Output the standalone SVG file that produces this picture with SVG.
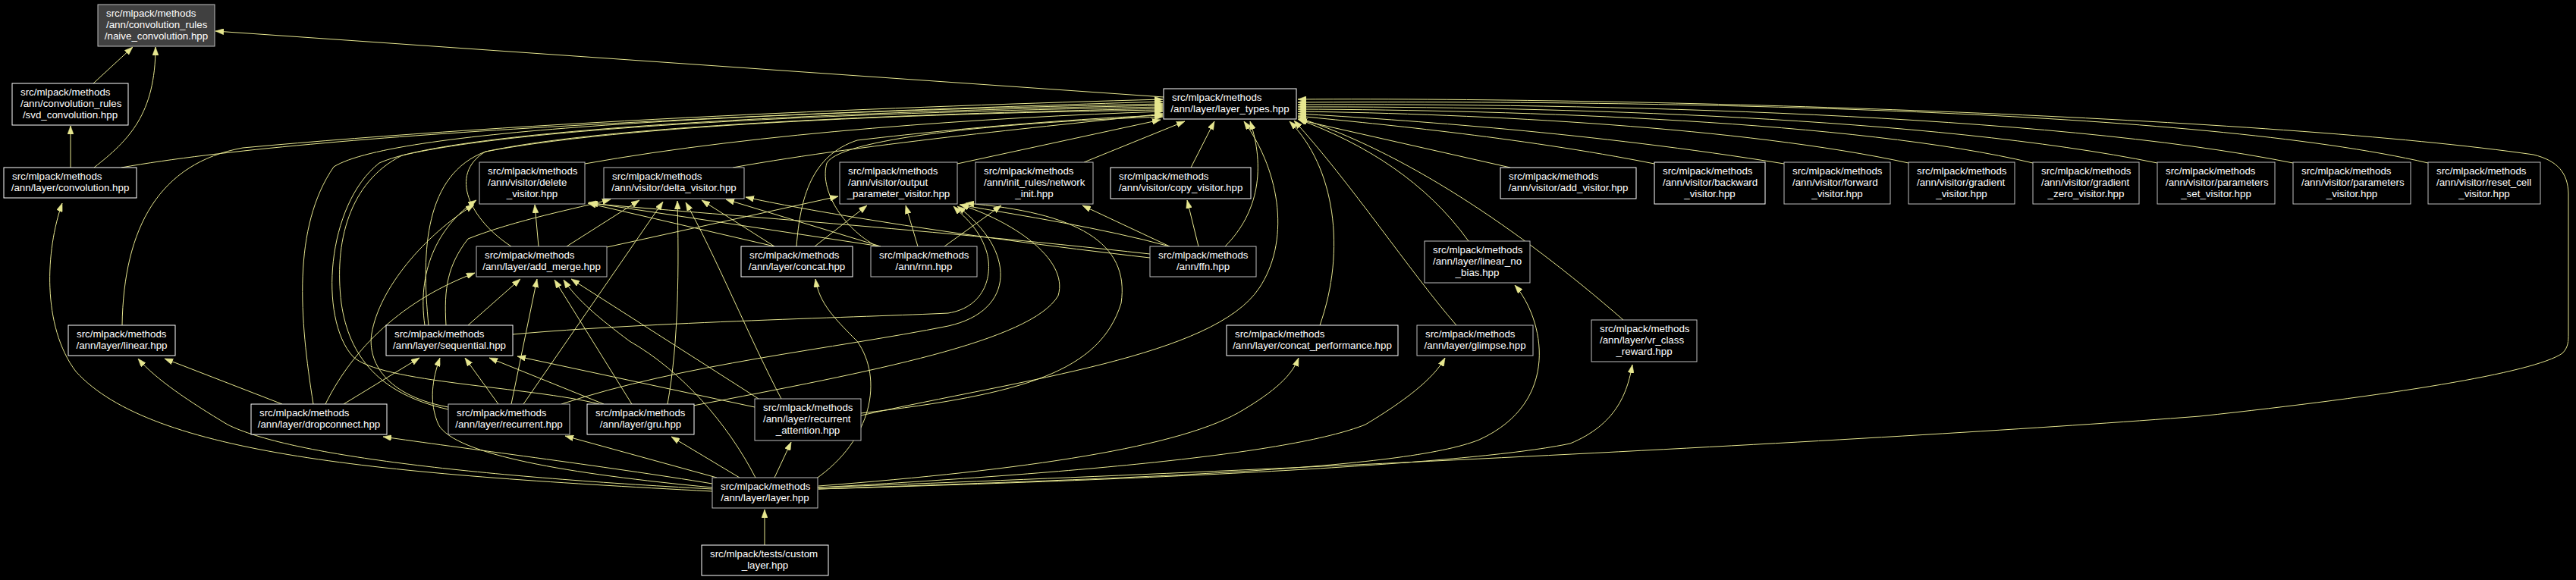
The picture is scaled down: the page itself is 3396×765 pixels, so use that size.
<svg xmlns="http://www.w3.org/2000/svg" width="3396" height="765" viewBox="0 0 3396 765">
<style>
.n rect{fill:#000;stroke:#fff;stroke-width:1}
.n.g rect{stroke:#bfbfbf}
.n text{font-family:"Liberation Sans",Arial,sans-serif;font-size:13.33px;fill:#fff}
.n text.m{text-anchor:middle}
#edges path{fill:none;stroke:#e6e68f;stroke-width:1;marker-end:url(#a)}
</style>
<defs>
<marker id="a" viewBox="0 0 11 8" refX="11" refY="4" markerWidth="11" markerHeight="8" markerUnits="userSpaceOnUse" orient="auto">
<path d="M0,0 L11,4 L0,8 z" fill="#e6e68f" stroke="#e6e68f" stroke-width="0.5"/>
</marker>
</defs>
<rect x="0" y="0" width="3396" height="765" fill="#000"/>
<g id="edges">
<path d="M123,110 L175,62"/>
<path d="M124,221 C170,185 205,150 205,62"/>
<path d="M93,221 L93,166"/>
<path d="M1534,128 L284,41"/>
<path d="M160,221 C420,175 1000,150 1533,134"/>
<path d="M161,429 C163,300 210,215 320,195 C700,160 1200,140 1533,131"/>
<path d="M413,533 C395,420 385,300 440,220 C520,170 1000,148 1533,137"/>
<path d="M790,533 C700,510 500,505 465,470 C420,420 430,270 500,215 C600,170 1100,147 1533,139"/>
<path d="M591,540 C500,520 460,470 450,400 C440,320 460,240 530,205 C700,165 1150,148 1533,141"/>
<path d="M591,537 C500,520 485,470 490,440 C500,380 560,310 625,270"/>
<path d="M565,429 C555,330 560,230 640,200 C800,165 1200,150 1533,143"/>
<path d="M560,429 C550,360 575,300 628,264"/>
<path d="M674,325 C620,290 590,230 640,200 C850,160 1300,148 1533,145"/>
<path d="M771,216 C1000,175 1300,155 1533,147"/>
<path d="M966,221 C1150,188 1400,165 1533,150"/>
<path d="M1050,325 C1055,260 1070,205 1130,185 C1300,165 1450,155 1533,152"/>
<path d="M1156,325 C1110,300 1080,250 1090,215 C1110,180 1350,160 1533,154"/>
<path d="M1262,216 L1530,158"/>
<path d="M1429,214 L1562,160"/>
<path d="M1570,221 L1601,160"/>
<path d="M1615,325 C1660,280 1668,220 1648,160"/>
<path d="M1135,548 C1350,500 1600,470 1660,380 C1700,320 1690,230 1640,160"/>
<path d="M1740,429 C1775,330 1760,220 1700,160"/>
<path d="M1920,429 C1860,360 1780,240 1706,159"/>
<path d="M1936,318 C1880,240 1800,190 1711,157"/>
<path d="M2140,422 C2000,300 1850,200 1711,155"/>
<path d="M1991,221 L1712,158"/>
<path d="M2181,216 C2000,180 1800,162 1711,153"/>
<path d="M2352,216 C2100,175 1850,158 1711,150"/>
<path d="M2516,215 C2300,168 1950,150 1711,147"/>
<path d="M2680,215 C2450,160 2000,145 1711,144"/>
<path d="M2844,215 C2550,155 2050,140 1711,141"/>
<path d="M3023,215 C2700,150 2100,136 1711,138"/>
<path d="M3201,215 C2900,145 2200,132 1711,135"/>
<path d="M1078,643 C1700,620 2500,580 2900,549 C3150,522 3340,492 3378,466 C3386,458 3386,450 3386,440 L3386,255 C3385,228 3372,212 3340,204 C3000,155 2200,128 1711,131"/>
<path d="M710,325 L705,270"/>
<path d="M747,325 L843,264"/>
<path d="M800,326 L1105,259"/>
<path d="M1021,325 L775,268"/>
<path d="M1021,325 L925,264"/>
<path d="M1074,325 L1143,271"/>
<path d="M1161,325 L776,267"/>
<path d="M1161,325 L957,263"/>
<path d="M1210,325 L1194,271"/>
<path d="M1245,325 L1320,271"/>
<path d="M1516,335 C1200,300 900,280 777,268"/>
<path d="M1516,340 C1250,310 1050,275 983,260"/>
<path d="M1542,325 C1450,300 1350,285 1265,270"/>
<path d="M1542,325 L1427,271"/>
<path d="M1580,325 L1565,264"/>
<path d="M588,429 C585,380 590,350 617,315 C680,290 760,275 805,263"/>
<path d="M676,441 C850,425 1150,418 1250,413 C1300,405 1310,360 1300,330 C1290,300 1270,285 1257,272"/>
<path d="M740,533 C900,480 1100,460 1250,430 C1340,410 1340,330 1262,272"/>
<path d="M914,535 C1150,490 1360,450 1395,390 C1410,340 1330,290 1266,270"/>
<path d="M1135,545 C1350,520 1450,490 1478,400 C1490,320 1420,280 1273,268"/>
<path d="M690,533 L874,266"/>
<path d="M880,533 C895,450 895,350 893,265"/>
<path d="M1030,526 C990,450 940,330 904,267"/>
<path d="M674,533 L708,368"/>
<path d="M833,533 L731,369"/>
<path d="M996,630 C960,560 900,490 830,450 C790,420 760,395 743,369"/>
<path d="M1000,526 L753,368"/>
<path d="M617,429 L686,368"/>
<path d="M429,533 C460,470 520,400 626,360"/>
<path d="M453,533 L553,472"/>
<path d="M372,533 L217,473"/>
<path d="M657,533 L613,472"/>
<path d="M796,533 L645,472"/>
<path d="M995,537 L682,470"/>
<path d="M939,643 C750,625 600,600 578,560 C565,530 570,500 580,472"/>
<path d="M939,638 C800,615 600,590 505,576"/>
<path d="M945,630 L745,575"/>
<path d="M975,630 L885,576"/>
<path d="M1021,630 L1043,583"/>
<path d="M1075,632 C1150,580 1165,500 1130,450 C1100,420 1080,400 1075,368"/>
<path d="M939,645 C620,628 380,600 300,560 C250,530 205,500 182,473"/>
<path d="M939,648 C500,625 200,600 100,490 C55,430 60,330 82,268"/>
<path d="M1079,641 C1350,620 1560,590 1640,540 C1690,510 1705,490 1712,472"/>
<path d="M1079,643 C1400,625 1700,600 1800,560 C1850,530 1890,500 1905,472"/>
<path d="M1079,645 C1500,630 1850,620 1950,580 C2060,530 2035,420 1997,376"/>
<path d="M1079,645 C1600,630 1950,610 2070,585 C2130,560 2145,520 2152,481"/>
<path d="M1008,719 L1008,672"/>
</g>
<g id="n_naive" class="n g"><rect x="129" y="6" width="154" height="55" style="fill:#404040"/><text x="140" y="21.5">src/mlpack/methods</text><text x="140" y="36.5">/ann/convolution_rules</text><text class="m" x="206" y="51.5">/naive_convolution.hpp</text></g>
<g id="n_svd" class="n"><rect x="16" y="110" width="153" height="55"/><text x="27" y="125.5">src/mlpack/methods</text><text x="27" y="140.5">/ann/convolution_rules</text><text class="m" x="92.5" y="155.5">/svd_convolution.hpp</text></g>
<g id="n_conv" class="n"><rect x="5" y="221" width="175" height="40"/><text x="16" y="237">src/mlpack/methods</text><text class="m" x="92.5" y="252">/ann/layer/convolution.hpp</text></g>
<g id="n_layer_types" class="n"><rect x="1534" y="117" width="175" height="40"/><text x="1545" y="133">src/mlpack/methods</text><text class="m" x="1621.5" y="148">/ann/layer/layer_types.hpp</text></g>
<g id="n_delete" class="n g"><rect x="632" y="214" width="139" height="55"/><text x="643" y="229.5">src/mlpack/methods</text><text x="643" y="244.5">/ann/visitor/delete</text><text class="m" x="701.5" y="259.5">_visitor.hpp</text></g>
<g id="n_delta" class="n g"><rect x="796" y="221" width="185" height="41"/><text x="807" y="237">src/mlpack/methods</text><text class="m" x="888.5" y="252">/ann/visitor/delta_visitor.hpp</text></g>
<g id="n_outparam" class="n g"><rect x="1107" y="214" width="155" height="55"/><text x="1118" y="229.5">src/mlpack/methods</text><text x="1118" y="244.5">/ann/visitor/output</text><text class="m" x="1184.5" y="259.5">_parameter_visitor.hpp</text></g>
<g id="n_netinit" class="n g"><rect x="1286" y="214" width="155" height="55"/><text x="1297" y="229.5">src/mlpack/methods</text><text x="1297" y="244.5">/ann/init_rules/network</text><text class="m" x="1363.5" y="259.5">_init.hpp</text></g>
<g id="n_copy" class="n"><rect x="1464" y="221" width="185" height="41"/><text x="1475" y="237">src/mlpack/methods</text><text class="m" x="1556.5" y="252">/ann/visitor/copy_visitor.hpp</text></g>
<g id="n_add_visitor" class="n"><rect x="1978" y="221" width="179" height="41"/><text x="1989" y="237">src/mlpack/methods</text><text class="m" x="2067.5" y="252">/ann/visitor/add_visitor.hpp</text></g>
<g id="n_backward" class="n"><rect x="2181" y="214" width="146" height="55"/><text x="2192" y="229.5">src/mlpack/methods</text><text x="2192" y="244.5">/ann/visitor/backward</text><text class="m" x="2254" y="259.5">_visitor.hpp</text></g>
<g id="n_forward" class="n g"><rect x="2352" y="214" width="140" height="55"/><text x="2363" y="229.5">src/mlpack/methods</text><text x="2363" y="244.5">/ann/visitor/forward</text><text class="m" x="2422" y="259.5">_visitor.hpp</text></g>
<g id="n_gradient" class="n g"><rect x="2516" y="214" width="140" height="55"/><text x="2527" y="229.5">src/mlpack/methods</text><text x="2527" y="244.5">/ann/visitor/gradient</text><text class="m" x="2586" y="259.5">_visitor.hpp</text></g>
<g id="n_gradzero" class="n g"><rect x="2680" y="214" width="140" height="55"/><text x="2691" y="229.5">src/mlpack/methods</text><text x="2691" y="244.5">/ann/visitor/gradient</text><text class="m" x="2750" y="259.5">_zero_visitor.hpp</text></g>
<g id="n_paramset" class="n g"><rect x="2844" y="214" width="155" height="55"/><text x="2855" y="229.5">src/mlpack/methods</text><text x="2855" y="244.5">/ann/visitor/parameters</text><text class="m" x="2921.5" y="259.5">_set_visitor.hpp</text></g>
<g id="n_params" class="n g"><rect x="3023" y="214" width="155" height="55"/><text x="3034" y="229.5">src/mlpack/methods</text><text x="3034" y="244.5">/ann/visitor/parameters</text><text class="m" x="3100.5" y="259.5">_visitor.hpp</text></g>
<g id="n_resetcell" class="n g"><rect x="3201" y="214" width="148" height="55"/><text x="3212" y="229.5">src/mlpack/methods</text><text x="3212" y="244.5">/ann/visitor/reset_cell</text><text class="m" x="3275" y="259.5">_visitor.hpp</text></g>
<g id="n_add_merge" class="n g"><rect x="628" y="325" width="172" height="40"/><text x="639" y="341">src/mlpack/methods</text><text class="m" x="714" y="356">/ann/layer/add_merge.hpp</text></g>
<g id="n_concat" class="n"><rect x="977" y="325" width="147" height="40"/><text x="988" y="341">src/mlpack/methods</text><text class="m" x="1050.5" y="356">/ann/layer/concat.hpp</text></g>
<g id="n_rnn" class="n g"><rect x="1148" y="325" width="140" height="40"/><text x="1159" y="341">src/mlpack/methods</text><text class="m" x="1218" y="356">/ann/rnn.hpp</text></g>
<g id="n_ffn" class="n g"><rect x="1516" y="325" width="140" height="40"/><text x="1527" y="341">src/mlpack/methods</text><text class="m" x="1586" y="356">/ann/ffn.hpp</text></g>
<g id="n_linear_no_bias" class="n g"><rect x="1878" y="318" width="139" height="55"/><text x="1889" y="333.5">src/mlpack/methods</text><text x="1889" y="348.5">/ann/layer/linear_no</text><text class="m" x="1947.5" y="363.5">_bias.hpp</text></g>
<g id="n_linear" class="n"><rect x="90" y="429" width="141" height="40"/><text x="101" y="445">src/mlpack/methods</text><text class="m" x="160.5" y="460">/ann/layer/linear.hpp</text></g>
<g id="n_sequential" class="n"><rect x="509" y="429" width="167" height="40"/><text x="520" y="445">src/mlpack/methods</text><text class="m" x="592.5" y="460">/ann/layer/sequential.hpp</text></g>
<g id="n_concat_perf" class="n"><rect x="1617" y="429" width="226" height="40"/><text x="1628" y="445">src/mlpack/methods</text><text class="m" x="1730" y="460">/ann/layer/concat_performance.hpp</text></g>
<g id="n_glimpse" class="n g"><rect x="1868" y="429" width="153" height="40"/><text x="1879" y="445">src/mlpack/methods</text><text class="m" x="1944.5" y="460">/ann/layer/glimpse.hpp</text></g>
<g id="n_vr_class" class="n g"><rect x="2098" y="422" width="139" height="55"/><text x="2109" y="437.5">src/mlpack/methods</text><text x="2109" y="452.5">/ann/layer/vr_class</text><text class="m" x="2167.5" y="467.5">_reward.hpp</text></g>
<g id="n_dropconnect" class="n"><rect x="331" y="533" width="179" height="40"/><text x="342" y="549">src/mlpack/methods</text><text class="m" x="420.5" y="564">/ann/layer/dropconnect.hpp</text></g>
<g id="n_recurrent" class="n g"><rect x="591" y="533" width="160" height="40"/><text x="602" y="549">src/mlpack/methods</text><text class="m" x="671" y="564">/ann/layer/recurrent.hpp</text></g>
<g id="n_gru" class="n"><rect x="774" y="533" width="141" height="40"/><text x="785" y="549">src/mlpack/methods</text><text class="m" x="844.5" y="564">/ann/layer/gru.hpp</text></g>
<g id="n_rec_attention" class="n g"><rect x="995" y="526" width="140" height="55"/><text x="1006" y="541.5">src/mlpack/methods</text><text x="1006" y="556.5">/ann/layer/recurrent</text><text class="m" x="1065" y="571.5">_attention.hpp</text></g>
<g id="n_layer" class="n g"><rect x="939" y="630" width="139" height="40"/><text x="950" y="646">src/mlpack/methods</text><text class="m" x="1008.5" y="661">/ann/layer/layer.hpp</text></g>
<g id="n_custom_layer" class="n"><rect x="925" y="719" width="167" height="40"/><text x="936" y="735">src/mlpack/tests/custom</text><text class="m" x="1008.5" y="750">_layer.hpp</text></g>
</svg>
